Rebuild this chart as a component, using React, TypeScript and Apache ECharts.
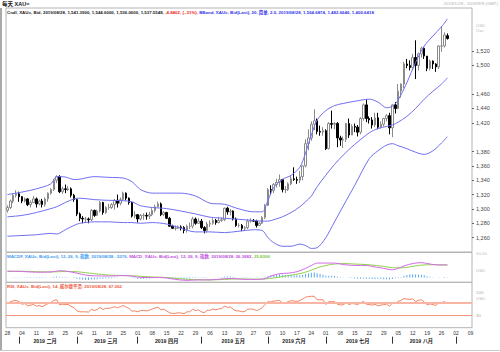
import { useEffect, useRef } from 'react';
import * as echarts from 'echarts';

const FONT = "'Liberation Sans', 'Noto Sans CJK SC', Arial, sans-serif";

const firstDay = '2019-01-28';
const lastDay = '2019-09-09';

function weekdayList(a: string, b: string): string[] {
  const out: string[] = [];
  const d = new Date(a + 'T00:00:00Z');
  const e = new Date(b + 'T00:00:00Z');
  while (d <= e) {
    const w = d.getUTCDay();
    if (w !== 0 && w !== 6) out.push(d.toISOString().slice(0, 10));
    d.setUTCDate(d.getUTCDate() + 1);
  }
  return out;
}
const categories = weekdayList(firstDay, lastDay);

const monthNames: Record<string, string> = {
  '02': '2019 二月', '03': '2019 三月', '04': '2019 四月', '05': '2019 五月',
  '06': '2019 六月', '07': '2019 七月', '08': '2019 八月',
};

const opens = [
  1298, 1302, 1311, 1319, 1321, 1317, 1311, 1314, 1306, 1309,
  1314, 1307, 1311, 1306, 1314, 1322, 1327, 1340, 1345, 1324,
  1328, 1327, 1328, 1319, 1313, 1293, 1287, 1286, 1286, 1285,
  1298, 1291, 1297, 1309, 1295, 1302, 1302, 1306, 1312, 1308,
  1313, 1322, 1315, 1309, 1290, 1292, 1286, 1291, 1291, 1290,
  1292, 1298, 1303, 1307, 1292, 1295, 1287, 1276, 1273, 1273,
  1275, 1274, 1270, 1276, 1276, 1286, 1280, 1283, 1274, 1270,
  1279, 1280, 1284, 1281, 1284, 1285, 1301, 1296, 1297, 1286,
  1277, 1277, 1273, 1274, 1283, 1284, 1283, 1277, 1280, 1288,
  1305, 1327, 1326, 1334, 1337, 1341, 1327, 1327, 1335, 1342,
  1341, 1340, 1345, 1360, 1391, 1399, 1418, 1423, 1408, 1407,
  1409, 1384, 1419, 1418, 1419, 1399, 1396, 1397, 1419, 1403,
  1415, 1414, 1407, 1426, 1445, 1426, 1424, 1417, 1427, 1414,
  1418, 1426, 1430, 1413, 1445, 1440, 1464, 1474, 1502, 1500,
  1497, 1511, 1500, 1516, 1524, 1513, 1496, 1506, 1502, 1498,
  1527, 1527, 1541.39,
];
const highs = [
  1305, 1313, 1321, 1326, 1324, 1318, 1316, 1315, 1312, 1318,
  1316, 1313, 1314, 1316, 1323, 1329, 1342, 1347, 1347, 1331,
  1334, 1332, 1330, 1321, 1314, 1295, 1290, 1289, 1288, 1300,
  1299, 1299, 1311, 1310, 1304, 1307, 1308, 1314, 1320, 1316,
  1324, 1323, 1316, 1310, 1297, 1293, 1293, 1294, 1295, 1296,
  1301, 1306, 1310, 1309, 1297, 1296, 1289, 1278, 1277, 1277,
  1277, 1276, 1278, 1281, 1289, 1288, 1287, 1286, 1276, 1282,
  1284, 1287, 1286, 1289, 1288, 1302, 1303, 1300, 1298, 1288,
  1280, 1279, 1276, 1286, 1287, 1286, 1285, 1282, 1290, 1307,
  1329, 1333, 1336, 1342, 1348, 1342, 1332, 1337, 1346, 1358,
  1345, 1353, 1361, 1397, 1411, 1422, 1439, 1426, 1416, 1414,
  1411, 1421, 1437, 1421, 1421, 1402, 1401, 1420, 1426, 1418,
  1419, 1417, 1428, 1447, 1453, 1429, 1428, 1434, 1434, 1422,
  1427, 1432, 1434, 1446, 1449, 1474, 1475, 1505, 1509, 1507,
  1516, 1535, 1518, 1526, 1526, 1513, 1508, 1507, 1503, 1528,
  1555, 1546, 1544.6,
];
const lows = [
  1295, 1300, 1308, 1316, 1310, 1308, 1309, 1304, 1302, 1308,
  1302, 1305, 1302, 1303, 1310, 1320, 1325, 1336, 1322, 1321,
  1322, 1325, 1316, 1310, 1290, 1283, 1280, 1281, 1280, 1283,
  1289, 1290, 1295, 1292, 1293, 1299, 1300, 1299, 1302, 1305,
  1311, 1312, 1306, 1288, 1287, 1281, 1284, 1285, 1285, 1286,
  1290, 1295, 1302, 1290, 1290, 1286, 1275, 1272, 1270, 1272,
  1270, 1266, 1267, 1272, 1273, 1278, 1279, 1272, 1266, 1267,
  1275, 1278, 1278, 1280, 1282, 1283, 1292, 1291, 1284, 1275,
  1274, 1269, 1270, 1272, 1281, 1282, 1274, 1276, 1279, 1286,
  1304, 1320, 1322, 1330, 1331, 1323, 1322, 1325, 1333, 1339,
  1335, 1336, 1340, 1358, 1382, 1395, 1410, 1404, 1402, 1402,
  1382, 1383, 1412, 1411, 1386, 1388, 1385, 1393, 1399, 1403,
  1407, 1401, 1404, 1423, 1421, 1419, 1412, 1414, 1411, 1412,
  1415, 1422, 1404, 1400, 1433, 1439, 1455, 1468, 1496, 1493,
  1496, 1481, 1493, 1511, 1509, 1492, 1493, 1495, 1491, 1495,
  1519, 1525, 1536,
];
const closes = [
  1302, 1311, 1319, 1321, 1317, 1311, 1314, 1306, 1309, 1314,
  1307, 1311, 1306, 1314, 1322, 1327, 1340, 1345, 1324, 1328,
  1327, 1328, 1319, 1313, 1293, 1287, 1286, 1286, 1285, 1298,
  1291, 1297, 1309, 1295, 1302, 1302, 1306, 1312, 1308, 1313,
  1322, 1315, 1309, 1290, 1292, 1286, 1291, 1291, 1290, 1292,
  1298, 1303, 1307, 1292, 1295, 1287, 1276, 1273, 1273, 1275,
  1274, 1270, 1276, 1276, 1286, 1280, 1283, 1274, 1270, 1279,
  1280, 1284, 1281, 1284, 1285, 1301, 1296, 1297, 1286, 1277,
  1277, 1273, 1274, 1283, 1284, 1283, 1277, 1280, 1288, 1305,
  1327, 1326, 1334, 1337, 1341, 1327, 1327, 1335, 1342, 1341,
  1340, 1345, 1360, 1391, 1399, 1418, 1423, 1408, 1407, 1409,
  1384, 1419, 1418, 1419, 1399, 1396, 1397, 1419, 1403, 1415,
  1414, 1407, 1426, 1445, 1426, 1424, 1417, 1427, 1414, 1418,
  1426, 1430, 1413, 1445, 1440, 1464, 1474, 1502, 1500, 1497,
  1511, 1500, 1516, 1524, 1513, 1496, 1506, 1502, 1498, 1527,
  1527, 1542.39, 1537.5548,
];

// Bollinger band readings at selected trading-day indices
const bandIdx = [0, 5, 10, 15, 17, 20, 23, 25, 30, 35, 40, 43, 46, 50, 55, 60, 65, 70, 75, 80, 85, 88, 90, 92, 95, 98, 101, 103, 105, 107, 110, 113, 116, 120, 125, 128, 131, 133, 135, 138, 141, 144, 147, 150, 152];
const upperBand = [1320, 1323.5, 1328, 1335, 1345, 1344.5, 1341, 1341.5, 1345, 1344, 1343, 1338, 1327, 1322, 1322, 1322, 1318, 1308, 1306.5, 1300, 1296, 1296, 1312, 1330, 1341, 1347, 1358, 1378, 1403, 1424, 1437, 1444, 1447, 1450, 1453, 1449, 1441, 1443, 1452, 1476, 1504, 1527, 1541, 1554, 1564.6874];
const middleBand = [1289, 1291, 1295, 1300.5, 1303, 1309, 1314, 1315, 1313, 1312, 1311.5, 1310, 1304.5, 1302, 1300.5, 1297, 1293, 1288.5, 1287, 1285.5, 1284, 1283, 1283, 1285, 1289, 1295, 1303, 1310, 1318, 1331, 1347, 1362, 1375, 1390, 1406, 1412, 1415, 1417, 1421, 1429, 1440, 1453, 1464, 1474, 1482.6646];
const lowerBand = [1262, 1263, 1264, 1266, 1265, 1271, 1277, 1280, 1282, 1282, 1281, 1281, 1280, 1281, 1279, 1273, 1268, 1268, 1267, 1269, 1271, 1270, 1260, 1253, 1248, 1248, 1251, 1249, 1245, 1246, 1260, 1282, 1304, 1333, 1370, 1381, 1389, 1391, 1388, 1384, 1379, 1376, 1381, 1392, 1400.6418];

// MACD readings
const difIdx = [0, 5, 10, 15, 18, 20, 24, 27, 30, 35, 40, 43, 46, 50, 55, 58, 62, 66, 70, 75, 78, 82, 86, 89, 91, 94, 97, 100, 103, 105, 107, 110, 113, 116, 120, 124, 127, 130, 133, 135, 137, 140, 143, 146, 149, 152];
const difValues = [13, 12.5, 11, 11.5, 14, 13.5, 9, 5, 3.5, 3, 4, 3, 0, 0, -1, -4, -6, -5, -5, -2.5, -2, -4, -4, -2.5, 3, 8, 9, 12, 19, 25, 30, 30, 30, 27, 25, 25, 22, 19, 16, 19, 24, 29, 31, 28, 26, 26.3682];
const deaIdx = [0, 5, 10, 15, 20, 24, 27, 30, 35, 40, 45, 50, 55, 60, 65, 70, 75, 80, 85, 89, 92, 95, 98, 101, 104, 107, 110, 113, 116, 120, 125, 130, 133, 136, 139, 142, 145, 148, 152];
const deaValues = [13, 13, 12, 11.5, 12.5, 12, 10, 8, 5, 4, 3, 1, 0, -3, -4.5, -5, -4, -3, -3.5, -3, -1, 2, 5, 8, 13, 20, 25, 28, 29, 28, 26.5, 23, 20.5, 20, 22, 25, 26.5, 26.5, 25.8306];
const macdHist = [
  0.2, 0.1, 0.4, 0.6, 0.3, -0.3, -0.5, -0.8, -0.8, -0.6,
  -1, -0.9, -1.1, -0.6, 0.1, 0.5, 1.3, 1.9, 1.4, 1.1,
  0.8, 0.6, 0, -0.9, -2.8, -3.9, -4.6, -5, -5, -4.3,
  -4.4, -3.9, -2.8, -2.8, -2.2, -2, -1.5, -0.8, -0.6, -0.2,
  0.2, 0.2, -0.1, -1.1, -1.8, -2.4, -2.7, -2.7, -2.5, -2.2,
  -1.5, -0.9, -0.3, -0.6, -0.7, -1.1, -1.8, -2.4, -2.6, -2.7,
  -2.6, -2.6, -2.3, -2, -1.2, -0.8, -0.4, -0.7, -0.9, -0.5,
  -0.2, 0.2, 0.4, 0.6, 0.8, 1.6, 1.9, 1.9, 1.4, 0.6,
  0, -0.6, -0.8, -0.5, -0.3, -0.2, -0.5, -0.5, 0, 1.4,
  3.2, 4.3, 5.3, 6.1, 6.6, 5.9, 5.2, 5, 5.2, 4.9,
  4.5, 4.5, 5.3, 7.4, 8.9, 10, 10.2, 8.8, 7.2, 5.8,
  3.5, 3.6, 3.6, 3.4, 2.2, 0.8, -0.4, -0.2, -0.9, -1.1,
  -2, -2.5, -2.8, -2, -2.6, -2.8, -3, -3, -2.8, -2.5,
  -3.8, -3.6, -4, -3, -1.5, -1, 1.2, 3.5, 5, 6,
  6.5, 6.3, 6, 5.5, 4.5, 2.8, 1.5, 0.6, -0.1, -0.3,
  0.2, 0.8, 0.5376,
];

const rsiValues = [
  67, 71, 75, 76, 72, 64, 66, 59, 61, 63,
  58, 60, 56, 61, 66, 69, 76, 78, 62, 64,
  63, 63, 57, 53, 43, 40, 40, 40, 39, 48,
  44, 47, 54, 47, 51, 51, 53, 56, 53, 56,
  60, 55, 51, 42, 43, 40, 44, 44, 43, 45,
  49, 52, 55, 46, 48, 43, 37, 35, 35, 37,
  36, 34, 40, 40, 48, 44, 46, 40, 37, 45,
  45, 49, 46, 49, 50, 58, 54, 55, 48, 43,
  43, 40, 41, 48, 49, 48, 44, 47, 53, 63,
  72, 71, 74, 75, 76, 68, 68, 72, 75, 74,
  73, 75, 80, 86, 88, 89, 89, 78, 78, 78,
  63, 72, 72, 72, 64, 62, 62, 69, 63, 66,
  65, 63, 68, 73, 64, 63, 61, 64, 59, 61,
  63, 64, 57, 68, 66, 73, 76, 82, 80, 79,
  81, 72, 76, 78, 71, 62, 65, 63, 60, 69,
  69, 72, 67.062,
];

const priceTicks = [1260, 1280, 1300, 1320, 1340, 1360, 1380, 1420, 1440, 1460, 1500, 1520];

function sparse(idx: number[], vals: number[], n: number): (number | string)[] {
  const a: (number | string)[] = new Array(n).fill('-');
  idx.forEach((k, i) => { a[k] = vals[i]; });
  return a;
}

const N = closes.length;
const fmt = (v: number) => v.toLocaleString('en-US');

function monthOf(d: string) { return d.slice(5, 7); }
function isMonthStart(i: number) { return i > 0 && monthOf(categories[i]) !== monthOf(categories[i - 1]); }
const monthMid: Record<number, string> = {};
(() => {
  const groups: Record<string, number[]> = {};
  categories.forEach((d, i) => { (groups[monthOf(d)] = groups[monthOf(d)] || []).push(i); });
  Object.keys(groups).forEach((m) => {
    if (monthNames[m]) {
      const g = groups[m];
      monthMid[Math.floor((g[0] + g[g.length - 1]) / 2)] = monthNames[m];
    }
  });
})();

function boxLabel(text: string, bg: string, color = '#fff', offset: number[] = [0, 0]) {
  return {
    show: true, position: 'end', distance: 1, formatter: text, backgroundColor: bg, color,
    fontSize: 5, fontFamily: FONT, padding: [1, 1, 0, 1], lineHeight: 5.5, offset,
  };
}

export default function App() {
  const ref = useRef<HTMLDivElement>(null);
  useEffect(() => {
    if (!ref.current) return;
    const chart = echarts.init(ref.current, undefined, { renderer: 'svg' });
    const candleData = closes.map((c, i) => [opens[i], c, lows[i], highs[i]]);
    const hiddenX = (g: number) => ({
      type: 'category', gridIndex: g, data: categories, boundaryGap: true, position: 'bottom',
      axisLine: { show: false }, axisTick: { show: false }, axisLabel: { show: false },
    });
    const option: any = {
      animation: false,
      backgroundColor: '#ffffff',
      textStyle: { fontFamily: FONT },
      title: [
        { text: '每天 XAU=', left: 2, top: 1, padding: 0, textStyle: { fontSize: 5.5, fontWeight: 'bold', color: '#111', fontFamily: FONT } },
        { text: '2019/1/28 - 2019/9/9 (GMT)', right: 2, top: 1, padding: 0, textStyle: { fontSize: 4.4, fontWeight: 'normal', color: '#b0b0b0', fontFamily: FONT } },
        {
          text: '{k|Cndl, XAU=, Bid, 2019/08/28, 1,541.3900, 1,544.6000, 1,536.0000, 1,537.5548, }{r|-4.8402, (-.31%), }{b|BBand, XAU=, Bid(Last), 20, 简单, 2.0, 2019/08/28, 1,564.6874, 1,482.6646, 1,400.6418}',
          left: 7, top: 10, padding: 0,
          textStyle: { fontSize: 4.4, fontFamily: FONT, rich: {
            k: { color: '#222', fontSize: 4.4, fontFamily: FONT },
            r: { color: '#ee2222', fontSize: 4.4, fontFamily: FONT },
            b: { color: '#3333ee', fontSize: 4.4, fontFamily: FONT },
          } },
        },
        {
          text: '{c|MACDF, XAU=, Bid(Last), 12, 26, 9, 指数, 2019/08/28, .5376, }{m|MACD, XAU=, Bid(Last), 12, 26, 9, 指数, 2019/08/28, 26.3682, }{g|25.8306}',
          left: 7, top: 254, padding: 0,
          textStyle: { fontSize: 4.4, fontFamily: FONT, rich: {
            c: { color: '#3a9cf0', fontSize: 4.4, fontFamily: FONT },
            m: { color: '#c04de0', fontSize: 4.4, fontFamily: FONT },
            g: { color: '#7cc83a', fontSize: 4.4, fontFamily: FONT },
          } },
        },
        {
          text: '{r|RSI, XAU=, Bid(Last), 14, 威尔德平滑, 2019/08/28, 67.062}',
          left: 7, top: 284, padding: 0,
          textStyle: { fontSize: 4.4, fontFamily: FONT, rich: {
            r: { color: '#f05a3c', fontSize: 4.4, fontFamily: FONT },
          } },
        },
      ],
      grid: [
        { left: 6, right: 28, top: 8, height: 244, show: true, borderColor: '#b4b4b4', borderWidth: 1 },
        { left: 6, right: 28, top: 252.5, height: 29.8, show: true, borderColor: '#b4b4b4', borderWidth: 1 },
        { left: 6, right: 28, top: 282.3, height: 45.4, show: true, borderColor: '#b4b4b4', borderWidth: 1 },
      ],
      xAxis: [
        hiddenX(0),
        hiddenX(1),
        {
          type: 'category', gridIndex: 2, data: categories, boundaryGap: true, position: 'bottom',
          axisLine: { show: false }, axisTick: { show: false },
          axisLabel: {
            interval: (i: number, v: string) => new Date(v + 'T00:00:00Z').getUTCDay() === 1,
            formatter: (v: string) => v.slice(8, 10),
            fontSize: 5, color: '#333', margin: 3, fontFamily: FONT,
          },
        },
        {
          type: 'category', gridIndex: 2, data: categories, boundaryGap: true, position: 'bottom', offset: 9,
          axisLine: { show: false },
          axisTick: { show: true, alignWithLabel: true, length: 7, interval: (i: number) => isMonthStart(i), lineStyle: { color: '#333', width: 1 } },
          axisLabel: {
            interval: (i: number) => monthMid[i] !== undefined,
            formatter: (v: string, i: number) => monthMid[i] || '',
            fontSize: 5.2, fontWeight: 'bold', color: '#222', margin: 2, fontFamily: FONT,
          },
        },
      ],
      yAxis: [
        {
          type: 'value', gridIndex: 0, position: 'right', min: 1240, max: 1580, scale: true,
          splitLine: { show: false },
          axisLine: { show: false },
          axisTick: { show: true, length: 2, customValues: priceTicks, lineStyle: { color: '#666' } },
          axisLabel: { customValues: priceTicks, formatter: fmt, fontSize: 5.5, color: '#444', margin: 4, fontFamily: FONT },
        },
        {
          type: 'value', gridIndex: 1, position: 'right', min: -10, max: 52,
          splitLine: { show: false }, axisLine: { show: false },
          axisTick: { show: false },
          axisLabel: { customValues: [50], formatter: (v: number) => v.toFixed(2), fontSize: 4.4, color: '#c0c0c0', margin: 4, fontFamily: FONT },
        },
        {
          type: 'value', gridIndex: 2, position: 'right', min: -10, max: 133,
          splitLine: { show: false }, axisLine: { show: false },
          axisTick: { show: false },
          axisLabel: { customValues: [30, 100], fontSize: 4.4, color: '#a8a8a8', margin: 4, fontFamily: FONT },
        },
      ],
      graphic: [
        { type: 'text', left: 476, top: 23, style: { text: 'USD', fontSize: 4.4, fill: '#bbb', fontFamily: FONT } },
        { type: 'text', left: 476, top: 28.5, style: { text: 'Ozs', fontSize: 4.4, fill: '#bbb', fontFamily: FONT } },
        { type: 'text', left: 476, top: 268, style: { text: 'USD', fontSize: 4.4, fill: '#bbb', fontFamily: FONT } },
        { type: 'text', left: 476, top: 296, style: { text: 'USD', fontSize: 4.4, fill: '#bbb', fontFamily: FONT } },
        { type: 'line', shape: { x1: 1, y1: 8, x2: 1, y2: 350 }, style: { stroke: '#8c8c8c', lineWidth: 1.5 } },
        { type: 'line', shape: { x1: 0, y1: 350.5, x2: 500, y2: 350.5 }, style: { stroke: '#c8c8c8', lineWidth: 1 } },
      ],
      series: [
        {
          type: 'candlestick', xAxisIndex: 0, yAxisIndex: 0, data: candleData, barWidth: 2,
          itemStyle: { color: '#ffffff', color0: '#000000', borderColor: '#8a8a8a', borderColor0: '#000000', borderWidth: 1 },
          markLine: {
            symbol: ['none', 'none'], silent: true, lineStyle: { opacity: 0 },
            data: [{ yAxis: 1537.5548, label: boxLabel('1,537.5548', '#000000') }],
          },
        },
        {
          type: 'line', xAxisIndex: 0, yAxisIndex: 0, data: sparse(bandIdx, upperBand, N), connectNulls: true, smooth: 0.3,
          showSymbol: false, lineStyle: { color: '#6f6ff2', width: 1 },
          markLine: { symbol: ['none', 'none'], silent: true, lineStyle: { opacity: 0 }, data: [{ yAxis: 1564.6874, label: boxLabel('1,564.6874', '#1515e6') }] },
        },
        {
          type: 'line', xAxisIndex: 0, yAxisIndex: 0, data: sparse(bandIdx, middleBand, N), connectNulls: true, smooth: 0.3,
          showSymbol: false, lineStyle: { color: '#6f6ff2', width: 1 },
          markLine: { symbol: ['none', 'none'], silent: true, lineStyle: { opacity: 0 }, data: [{ yAxis: 1482.6646, label: boxLabel('1,482.6646', '#1515e6') }] },
        },
        {
          type: 'line', xAxisIndex: 0, yAxisIndex: 0, data: sparse(bandIdx, lowerBand, N), connectNulls: true, smooth: 0.3,
          showSymbol: false, lineStyle: { color: '#6f6ff2', width: 1 },
          markLine: { symbol: ['none', 'none'], silent: true, lineStyle: { opacity: 0 }, data: [{ yAxis: 1400.6418, label: boxLabel('1,400.6418', '#1515e6') }] },
        },
        {
          type: 'bar', xAxisIndex: 1, yAxisIndex: 1, data: macdHist, barWidth: 1,
          itemStyle: { color: '#5aa8ee' },
          markLine: { symbol: ['none', 'none'], silent: true, lineStyle: { opacity: 0 }, data: [{ yAxis: 0.5376, label: boxLabel('.5376', '#2a8cf0', '#111') }] },
        },
        {
          type: 'line', xAxisIndex: 1, yAxisIndex: 1, data: sparse(deaIdx, deaValues, N), connectNulls: true, smooth: 0.3,
          showSymbol: false, lineStyle: { color: '#8fd24a', width: 1 },
          markLine: { symbol: ['none', 'none'], silent: true, lineStyle: { opacity: 0 }, data: [{ yAxis: 25.8306, label: boxLabel('25.8306', '#6ccc10') }] },
        },
        {
          type: 'line', xAxisIndex: 1, yAxisIndex: 1, data: sparse(difIdx, difValues, N), connectNulls: true, smooth: 0.3,
          showSymbol: false, lineStyle: { color: '#d46ae8', width: 1 },
          markLine: { symbol: ['none', 'none'], silent: true, lineStyle: { opacity: 0 }, data: [{ yAxis: 26.3682, label: boxLabel('26.3682', '#b43fd8', '#fff', [0, -5]) }] },
        },
        {
          type: 'line', xAxisIndex: 2, yAxisIndex: 2, data: rsiValues, showSymbol: false,
          lineStyle: { color: '#f4835f', width: 1 },
          markLine: {
            symbol: ['none', 'none'], silent: true,
            data: [
              { yAxis: 70, lineStyle: { color: '#f9b6a4', width: 2, type: 'solid' }, label: { show: false } },
              { yAxis: 30, lineStyle: { color: '#f49478', width: 1, type: 'solid' }, label: { show: false } },
              { yAxis: 67.062, lineStyle: { opacity: 0 }, label: boxLabel('67.062', '#ea3a16') },
            ],
          },
        },
      ],
    };
    chart.setOption(option);
    return () => chart.dispose();
  }, []);
  return <div ref={ref} style={{ position: 'fixed', left: 0, top: 0, width: 500, height: 352 }} />;
}
